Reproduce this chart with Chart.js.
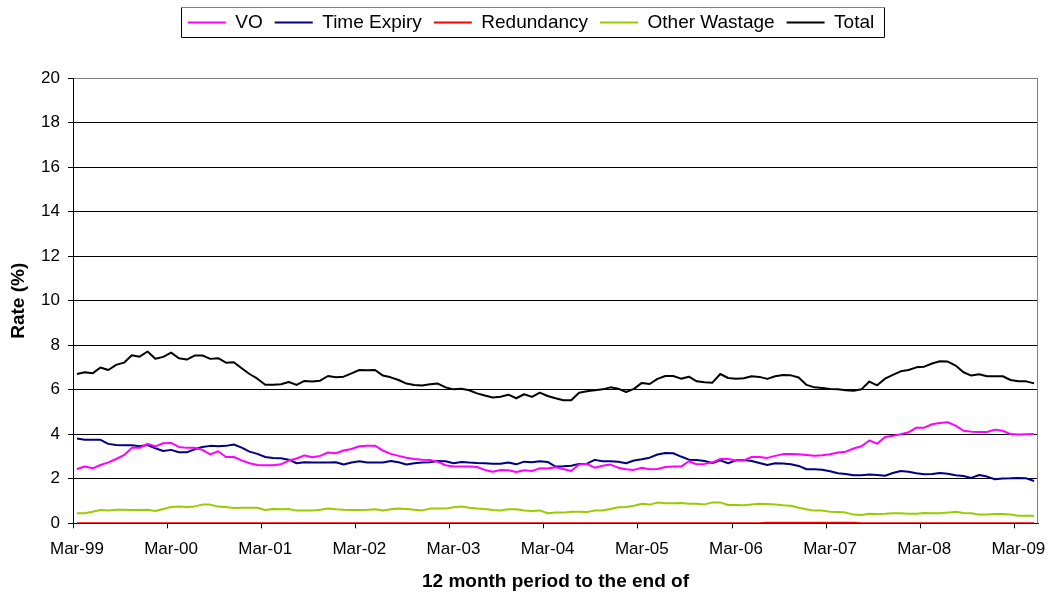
<!DOCTYPE html>
<html>
<head>
<meta charset="utf-8">
<script src="https://cdn.jsdelivr.net/npm/chart.js@4.4.1/dist/chart.umd.min.js"></script>
<style>
  html, body { margin: 0; padding: 0; background: #ffffff; }
  #wrap { width: 1049px; height: 594px; }
</style>
</head>
<body>
<div id="wrap"><canvas id="c" width="1049" height="594"></canvas></div>
<script>
// ---- Data ----
const categories = (
  'Mar-99 Apr-99 May-99 Jun-99 Jul-99 Aug-99 Sep-99 Oct-99 Nov-99 Dec-99 Jan-00 Feb-00 ' +
  'Mar-00 Apr-00 May-00 Jun-00 Jul-00 Aug-00 Sep-00 Oct-00 Nov-00 Dec-00 Jan-01 Feb-01 ' +
  'Mar-01 Apr-01 May-01 Jun-01 Jul-01 Aug-01 Sep-01 Oct-01 Nov-01 Dec-01 Jan-02 Feb-02 ' +
  'Mar-02 Apr-02 May-02 Jun-02 Jul-02 Aug-02 Sep-02 Oct-02 Nov-02 Dec-02 Jan-03 Feb-03 ' +
  'Mar-03 Apr-03 May-03 Jun-03 Jul-03 Aug-03 Sep-03 Oct-03 Nov-03 Dec-03 Jan-04 Feb-04 ' +
  'Mar-04 Apr-04 May-04 Jun-04 Jul-04 Aug-04 Sep-04 Oct-04 Nov-04 Dec-04 Jan-05 Feb-05 ' +
  'Mar-05 Apr-05 May-05 Jun-05 Jul-05 Aug-05 Sep-05 Oct-05 Nov-05 Dec-05 Jan-06 Feb-06 ' +
  'Mar-06 Apr-06 May-06 Jun-06 Jul-06 Aug-06 Sep-06 Oct-06 Nov-06 Dec-06 Jan-07 Feb-07 ' +
  'Mar-07 Apr-07 May-07 Jun-07 Jul-07 Aug-07 Sep-07 Oct-07 Nov-07 Dec-07 Jan-08 Feb-08 ' +
  'Mar-08 Apr-08 May-08 Jun-08 Jul-08 Aug-08 Sep-08 Oct-08 Nov-08 Dec-08 Jan-09 Feb-09 ' +
  'Mar-09 Apr-09 May-09'
).split(' ');

const tickLabels = ['Mar-99','Mar-00','Mar-01','Mar-02','Mar-03','Mar-04','Mar-05','Mar-06','Mar-07','Mar-08','Mar-09'];

const yTicks = [0, 2, 4, 6, 8, 10, 12, 14, 16, 18, 20];

const seriesNames = ['VO', 'Time Expiry', 'Redundancy', 'Other Wastage', 'Total'];

const voValues = [
  2.44,2.55,2.47,2.62,2.74,2.89,3.06,3.39,3.39,3.57,3.46,3.60,
  3.61,3.43,3.39,3.39,3.30,3.10,3.24,2.98,2.98,2.83,2.70,2.62,
  2.61,2.61,2.65,2.82,2.91,3.05,2.97,3.03,3.18,3.15,3.27,3.34,
  3.46,3.48,3.49,3.27,3.12,3.03,2.95,2.89,2.86,2.85,2.76,2.61,
  2.55,2.55,2.55,2.53,2.40,2.32,2.40,2.38,2.31,2.38,2.35,2.47,
  2.46,2.52,2.44,2.35,2.64,2.67,2.50,2.59,2.64,2.50,2.43,2.40,
  2.50,2.43,2.44,2.53,2.55,2.55,2.79,2.65,2.67,2.74,2.89,2.89,
  2.82,2.83,2.98,2.98,2.94,3.03,3.11,3.12,3.10,3.07,3.04,3.06,
  3.10,3.18,3.22,3.36,3.46,3.72,3.58,3.88,3.93,4.00,4.09,4.30,
  4.30,4.45,4.51,4.54,4.39,4.16,4.12,4.10,4.10,4.21,4.16,4.01,
  3.99,4.00,4.01
];

const timeExpiryValues = [
  3.81,3.76,3.75,3.75,3.57,3.52,3.51,3.51,3.46,3.52,3.37,3.25,
  3.30,3.19,3.19,3.33,3.43,3.48,3.46,3.48,3.54,3.40,3.22,3.12,
  2.98,2.94,2.92,2.86,2.70,2.74,2.73,2.73,2.73,2.74,2.64,2.73,
  2.79,2.73,2.73,2.73,2.80,2.74,2.64,2.70,2.73,2.74,2.80,2.79,
  2.70,2.76,2.73,2.71,2.70,2.68,2.68,2.73,2.65,2.77,2.74,2.79,
  2.76,2.55,2.56,2.59,2.67,2.68,2.85,2.79,2.79,2.77,2.70,2.82,
  2.88,2.95,3.09,3.16,3.15,3.00,2.86,2.85,2.80,2.71,2.83,2.70,
  2.83,2.85,2.80,2.71,2.62,2.70,2.69,2.65,2.58,2.43,2.43,2.41,
  2.34,2.25,2.22,2.16,2.16,2.19,2.17,2.14,2.26,2.35,2.32,2.25,
  2.20,2.22,2.26,2.23,2.16,2.13,2.04,2.17,2.10,1.98,2.01,2.02,
  2.04,2.02,1.90
];

const redundancyValues = [
  0,0,0,0,0,0,0,0,0,0,0,0,
  0,0,0,0,0,0,0,0,0,0,0,0,
  0,0,0,0,0,0,0,0,0,0,0,0,
  0,0,0,0,0,0,0,0,0,0,0,0,
  0,0,0,0,0,0,0,0,0,0,0,0,
  0,0,0,0,0,0,0,0,0,0,0,0,
  0,0,0,0,0,0,0,0,0,0,0,0,
  0,0,0,0,0.03,0.03,0.03,0.03,0.03,0.03,0.03,0.03,
  0.03,0.03,0.03,0.03,0,0,0,0,0,0,0,0,
  0,0,0,0,0,0,0,0,0,0,0,0,
  0,0,0
];

const otherWastageValues = [
  0.45,0.45,0.52,0.60,0.57,0.61,0.61,0.60,0.60,0.61,0.55,0.64,
  0.73,0.75,0.73,0.76,0.84,0.84,0.75,0.73,0.69,0.70,0.70,0.70,
  0.60,0.64,0.63,0.64,0.57,0.57,0.58,0.61,0.66,0.63,0.61,0.60,
  0.60,0.61,0.63,0.58,0.63,0.66,0.64,0.61,0.58,0.66,0.66,0.66,
  0.72,0.75,0.70,0.66,0.64,0.60,0.58,0.63,0.63,0.58,0.55,0.58,
  0.45,0.48,0.48,0.52,0.52,0.51,0.57,0.58,0.64,0.72,0.73,0.79,
  0.88,0.84,0.93,0.90,0.90,0.91,0.88,0.88,0.85,0.94,0.94,0.82,
  0.82,0.81,0.85,0.88,0.87,0.84,0.81,0.79,0.70,0.63,0.57,0.57,
  0.52,0.51,0.48,0.39,0.37,0.43,0.42,0.43,0.45,0.45,0.43,0.43,
  0.46,0.45,0.45,0.48,0.52,0.46,0.45,0.39,0.40,0.42,0.42,0.40,
  0.34,0.34,0.34
];

const totalValues = [
  6.71,6.79,6.74,7.00,6.89,7.12,7.22,7.55,7.49,7.72,7.40,7.48,
  7.67,7.42,7.36,7.54,7.54,7.39,7.42,7.22,7.24,6.97,6.71,6.50,
  6.23,6.23,6.25,6.35,6.22,6.40,6.37,6.41,6.62,6.56,6.59,6.74,
  6.89,6.88,6.89,6.64,6.56,6.44,6.28,6.22,6.19,6.25,6.28,6.11,
  6.02,6.05,5.98,5.84,5.74,5.65,5.69,5.78,5.62,5.80,5.68,5.87,
  5.72,5.62,5.53,5.53,5.87,5.93,5.98,6.02,6.11,6.05,5.90,6.04,
  6.31,6.26,6.49,6.62,6.62,6.50,6.59,6.38,6.34,6.32,6.71,6.53,
  6.50,6.52,6.61,6.58,6.49,6.61,6.66,6.65,6.55,6.22,6.11,6.08,
  6.04,6.02,5.98,5.96,6.02,6.37,6.20,6.50,6.67,6.83,6.89,7.01,
  7.04,7.18,7.28,7.27,7.09,6.79,6.64,6.70,6.61,6.61,6.61,6.44,
  6.38,6.38,6.29
];

const seriesColors = ['#FF00FF', '#000080', '#FF0000', '#99CC00', '#000000'];

// ---- Chart ----
Chart.defaults.font.family = "'Liberation Sans', Arial, Helvetica, sans-serif";
Chart.defaults.color = '#000000';

const seriesValues = [voValues, timeExpiryValues, redundancyValues, otherWastageValues, totalValues];

const datasets = seriesNames.map((name, k) => ({
  label: name,
  data: seriesValues[k],
  borderColor: seriesColors[k],
  backgroundColor: seriesColors[k],
  borderWidth: 2,
  pointRadius: 0,
  pointHoverRadius: 0,
  tension: 0,
  fill: false,
  borderJoinStyle: 'round',
  pointStyle: 'line'
}));

const layoutPlugin = {
  id: 'layoutTweaks',
  beforeLayout(chart) {
    const lg = chart.legend;
    if (lg && !lg._patchedFit) {
      const orig = lg.fit;
      lg.fit = function () { orig.call(this); this.height = 77.3; };
      lg._patchedFit = true;
    }
  },
  afterLayout(chart) {
    const lg = chart.legend;
    if (lg) { lg.left += 12; lg.right += 12; }
  },
  beforeDatasetsDraw(chart) {
    const {ctx, chartArea: a} = chart;
    ctx.save();
    ctx.strokeStyle = '#808080';
    ctx.lineWidth = 1;
    ctx.beginPath();
    const rx = Math.round(a.right) - 0.5;
    ctx.moveTo(rx, Math.round(a.top) + 0.5);
    ctx.lineTo(rx, Math.round(a.bottom) + 0.5);
    ctx.stroke();
    ctx.restore();
  },
  afterDraw(chart) {
    const lg = chart.legend;
    if (!lg || !lg.legendHitBoxes || !lg.legendHitBoxes.length) return;
    const hb = lg.legendHitBoxes;
    const first = hb[0], last = hb[hb.length - 1];
    const x0 = Math.round(first.left - 7) + 0.5;
    const x1 = Math.round(last.left + last.width + 10) + 0.5;
    const y0 = Math.round(first.top - 6) + 0.5;
    const y1 = Math.round(first.top + first.height + 5) + 0.5;
    const ctx = chart.ctx;
    ctx.save();
    ctx.lineWidth = 1;
    ctx.strokeStyle = '#000000';
    ctx.beginPath();
    ctx.moveTo(x0, y0); ctx.lineTo(x0, y1); ctx.lineTo(x1, y1); ctx.lineTo(x1, y0);
    ctx.stroke();
    ctx.strokeStyle = '#808080';
    ctx.beginPath();
    ctx.moveTo(x0, y0); ctx.lineTo(x1, y0);
    ctx.stroke();
    ctx.restore();
  }
};

new Chart(document.getElementById('c'), {
  type: 'line',
  data: { labels: categories, datasets },
  plugins: [layoutPlugin],
  options: {
    responsive: false,
    animation: false,
    devicePixelRatio: 1,
    layout: { padding: { top: 1, right: 11, bottom: 0, left: 0 } },
    plugins: {
      legend: {
        display: true,
        position: 'top',
        align: 'center',
        labels: {
          usePointStyle: true,
          pointStyle: 'line',
          pointStyleWidth: 38,
          padding: 12,
          color: '#000000',
          font: { size: 19 }
        }
      },
      tooltip: { enabled: false },
      title: { display: false }
    },
    scales: {
      x: {
        type: 'category',
        offset: true,
        afterFit(s) { s.height = 70.7; },
        grid: {
          offset: true,
          drawOnChartArea: false,
          drawTicks: true,
          tickLength: 5,
          tickWidth: 1,
          tickColor: (c) => (c.index % 12 === 0 ? '#000000' : 'rgba(0,0,0,0)')
        },
        border: { display: true, color: '#000000', width: 1 },
        ticks: {
          autoSkip: false,
          maxRotation: 0,
          minRotation: 0,
          padding: 11,
          color: '#000000',
          font: { size: 17 },
          callback: function (value) {
            const lab = this.getLabelForValue(value);
            return tickLabels.includes(lab) ? lab : '';
          }
        },
        title: {
          display: true,
          text: '12 month period to the end of',
          color: '#000000',
          font: { size: 19, weight: 'bold' },
          padding: { top: 0, bottom: 1 }
        }
      },
      y: {
        min: yTicks[0],
        max: yTicks[yTicks.length - 1],
        afterFit(s) { s.width = 73; },
        afterBuildTicks(s) { s.ticks = yTicks.map(v => ({ value: v })); },
        grid: {
          color: (c) => (c.tick && c.tick.value === 20 ? '#808080' : '#000000'),
          lineWidth: 1,
          drawTicks: true,
          tickLength: 5,
          tickColor: '#000000'
        },
        border: { display: true, color: '#000000', width: 1 },
        ticks: {
          padding: 8,
          color: '#000000',
          font: { size: 17 }
        },
        title: {
          display: true,
          text: 'Rate (%)',
          color: '#000000',
          font: { size: 19, weight: 'bold' },
          padding: { top: 7.5, bottom: 0 }
        }
      }
    }
  }
});
</script>
</body>
</html>
